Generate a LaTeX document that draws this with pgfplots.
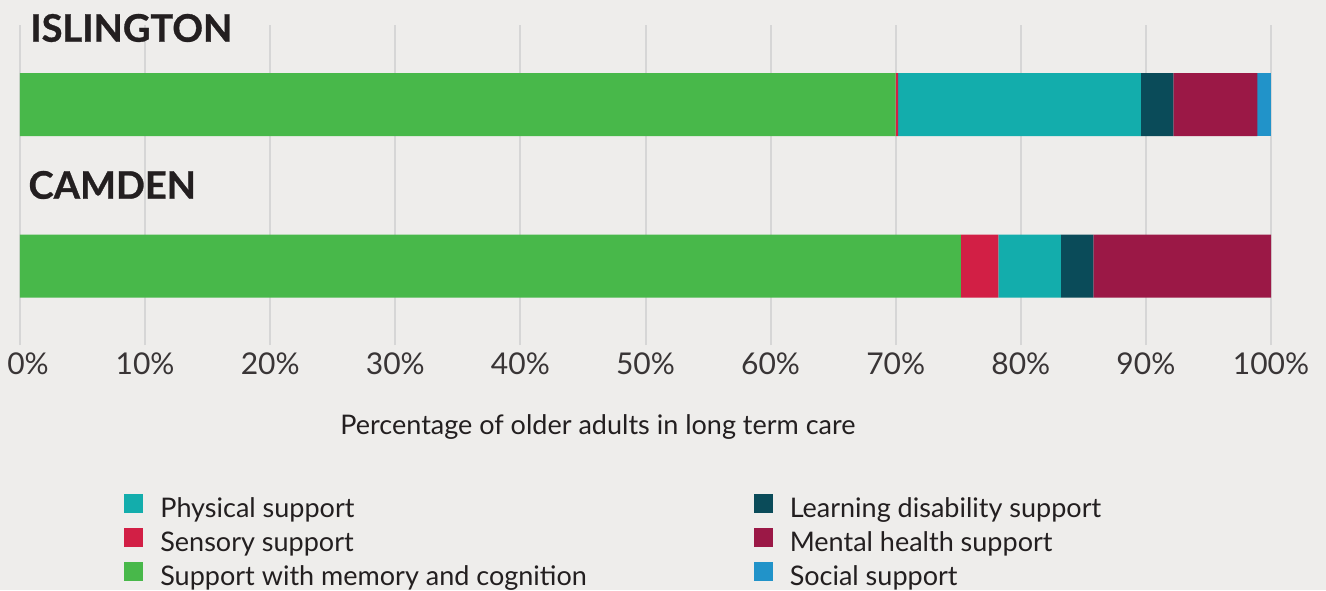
\documentclass[border=0pt]{standalone}
\usepackage{fontspec}
\setmainfont{Lato}
\newfontfamily\heavy[BoldFeatures={FakeBold=0.8}]{Lato}
\usepackage{pgfplots}
\pgfplotsset{compat=1.18}

\definecolor{bg}{HTML}{EEEDEB}
\definecolor{gridc}{HTML}{D6D6D6}
\definecolor{txt}{HTML}{231F20}
\definecolor{memory}{HTML}{48B84A}
\definecolor{sensory}{HTML}{D21F45}
\definecolor{physical}{HTML}{13ADAC}
\definecolor{learning}{HTML}{0A4B59}
\definecolor{mental}{HTML}{9B1846}
\definecolor{social}{HTML}{2193C9}

% 1 px of the reference = 0.5pt here
\begin{document}
\begin{tikzpicture}
\fill[bg] (-10pt,-122.5pt) rectangle (653pt,172.5pt);
\begin{axis}[
    at={(0,0)}, anchor=south west,
    scale only axis,
    width=625.5pt, height=160pt,
    xmin=0, xmax=100, ymin=-345, ymax=-25,
    xbar stacked,
    bar width=63,
    clip=false,
    axis line style={draw=none},
    major tick length=0pt,
    ytick=\empty,
    xtick={0,10,...,100},
    xmajorgrids,
    grid style={gridc, line width=1pt},
    xticklabel={\ifdim\tick pt<1pt\hspace*{8pt}\fi\pgfmathprintnumber{\tick}\%},
    /pgf/number format/assume math mode=true,
    xticklabel style={font=\fontsize{15}{18}\selectfont, text=txt!90, inner sep=0pt, yshift=-3.5pt},
    legend columns=2,
    legend cell align=left,
    legend style={
        at={(0.0831,-0.463)}, anchor=north west,
        draw=none, fill=none, inner sep=0pt,
        font=\fontsize{13.5}{16}\selectfont, text=txt,
        nodes={inner sep=0pt, text height=9.5pt, text depth=2.5pt},
        row sep=2.5pt,
        /tikz/every odd column/.append style={column sep=8.5pt},
        /tikz/every even column/.append style={column sep=83.5pt},
    },
    legend image code/.code={\fill[#1] (0pt,-1pt) rectangle (9.5pt,8.5pt);},
]
% legend order (row-wise, two columns)
\addlegendimage{fill=physical, draw=none}
\addlegendimage{fill=learning, draw=none}
\addlegendimage{fill=sensory, draw=none}
\addlegendimage{fill=mental, draw=none}
\addlegendimage{fill=memory, draw=none}
\addlegendimage{fill=social, draw=none}

% stacked bars: Islington (y=-104.5), Camden (y=-266)
\addplot[fill=memory, draw=none] coordinates {(70.0,-104.5) (75.2,-266)};
\addplot[fill=sensory, draw=none] coordinates {(0.2,-104.5) (3.0,-266)};
\addplot[fill=physical, draw=none] coordinates {(19.4,-104.5) (5.0,-266)};
\addplot[fill=learning, draw=none] coordinates {(2.6,-104.5) (2.6,-266)};
\addplot[fill=mental, draw=none] coordinates {(6.7,-104.5) (14.2,-266)};
\addplot[fill=social, draw=none] coordinates {(1.1,-104.5) (0,-266)};

\legend{Physical support, Learning disability support, Sensory support, Mental health support, Support with memory and cognition, Social support}

\node[anchor=west, inner sep=0pt, text=txt, font=\fontsize{19}{23}\selectfont\heavy\bfseries] at (axis cs:0.8,-28) {ISLINGTON};
\node[anchor=west, inner sep=0pt, text=txt, font=\fontsize{19}{23}\selectfont\heavy\bfseries] at (axis cs:0.65,-185) {CAMDEN};
\node[text=txt, font=\fontsize{13.5}{16}\selectfont] at (axis cs:46.2,-427) {Percentage of older adults in long term care};
\end{axis}
\pgfresetboundingbox
\path (-10pt,-122.5pt) rectangle (653pt,172.5pt);
\end{tikzpicture}
\end{document}
